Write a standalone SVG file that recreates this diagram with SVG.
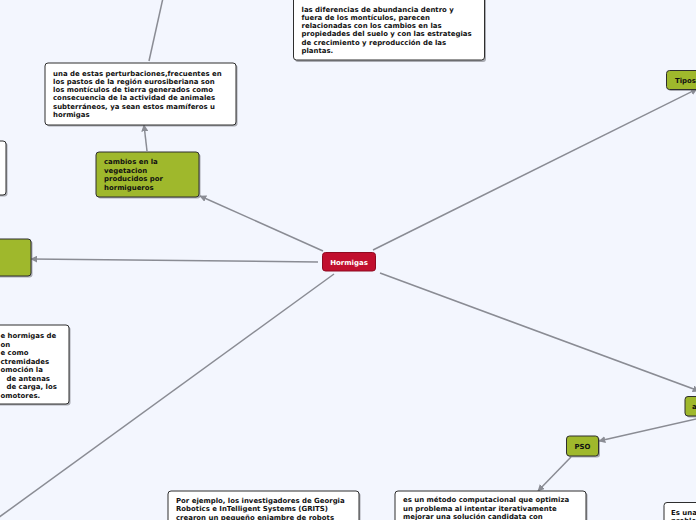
<svg xmlns="http://www.w3.org/2000/svg" width="696" height="520" viewBox="0 0 696 520">
<defs>
<marker id="arr" viewBox="0 0 10 10" refX="9" refY="5" markerWidth="7" markerHeight="7" markerUnits="userSpaceOnUse" orient="auto">
<path d="M0,0 L10,5 L0,10 z" fill="#8a8c94"/>
</marker>
<style>
.bg{fill:#f3f6fe}
.c{stroke:#8a8c94;stroke-width:1.5;fill:none}
.ca{stroke:#8a8c94;stroke-width:1.5;fill:none;marker-end:url(#arr)}
.w{fill:#ffffff;stroke:#2e2e2e;stroke-width:1}
.g{fill:#9fb82c;stroke:#2e2e2e;stroke-width:1}
.sh{fill:#6d6f75;opacity:0.55}
.r{fill:#c10f2e;stroke:#8e0a20;stroke-width:1}
.t{font-family:"DejaVu Sans",Verdana,sans-serif;font-weight:bold;font-size:6.95px;fill:#111}
.tw{font-family:"DejaVu Sans",Verdana,sans-serif;font-weight:bold;font-size:7px;fill:#ffffff}
</style>
</defs>
<rect class="bg" x="0" y="0" width="696" height="520"/>

<g id="connectors">
<line class="ca" x1="323" y1="251" x2="200" y2="196"/>
<line class="ca" x1="318" y1="262" x2="31" y2="259"/>
<line class="c" x1="334" y1="274" x2="-2" y2="518"/>
<line class="ca" x1="373" y1="250" x2="697" y2="89"/>
<line class="ca" x1="380" y1="273" x2="699" y2="391"/>
<line class="ca" x1="700" y1="418" x2="599" y2="441"/>
<line class="ca" x1="571" y1="457" x2="538" y2="491"/>
<line class="ca" x1="147" y1="151" x2="144" y2="125"/>
<line class="c" x1="149" y1="61" x2="163" y2="-2"/>
</g>

<g id="node-top">
<rect class="sh" x="295" y="-6" width="191" height="68" rx="3"/>
<rect class="w" x="293.5" y="-7" width="191" height="67" rx="3"/>
<text class="t" x="301.5" y="11.5">las diferencias de abundancia dentro y</text>
<text class="t" x="301.5" y="19.8">fuera de los montículos, parecen</text>
<text class="t" x="301.5" y="28.1">relacionadas con los cambios en las</text>
<text class="t" x="301.5" y="36.4">propiedades del suelo y con las estrategias</text>
<text class="t" x="301.5" y="44.7">de crecimiento y reproducción de las</text>
<text class="t" x="301.5" y="53">plantas.</text>
</g>

<g id="node-perturbaciones">
<rect class="sh" x="46.5" y="64.5" width="191" height="62" rx="3"/>
<rect class="w" x="45" y="63" width="191" height="62" rx="3"/>
<text class="t" x="53" y="75.8">una de estas perturbaciones,frecuentes en</text>
<text class="t" x="53" y="84">los pastos de la región eurosiberiana son</text>
<text class="t" x="53" y="92.2">los montículos de tierra generados como</text>
<text class="t" x="53" y="100.4">consecuencia de la actividad de animales</text>
<text class="t" x="53" y="108.6">subterráneos, ya sean estos mamíferos u</text>
<text class="t" x="53" y="116.8">hormigas</text>
</g>

<g id="node-cambios">
<rect class="sh" x="97.5" y="153.5" width="103" height="45" rx="3"/>
<rect class="g" x="96" y="152" width="103" height="45" rx="3"/>
<text class="t" x="104" y="164">cambios en la</text>
<text class="t" x="104" y="172.5">vegetacion</text>
<text class="t" x="104" y="181">producidos por</text>
<text class="t" x="104" y="189.5">hormigueros</text>
</g>

<g id="node-left-white">
<rect class="sh" x="-4" y="142.5" width="11.5" height="54" rx="3"/>
<rect class="w" x="-6" y="141" width="12" height="54" rx="3"/>
</g>

<g id="node-left-green">
<rect class="sh" x="-4" y="240.5" width="36.5" height="37" rx="3"/>
<rect class="g" x="-6" y="239" width="37" height="37" rx="3"/>
</g>

<g id="node-bottom-left">
<rect class="sh" x="-4" y="326.5" width="74.5" height="79" rx="3"/>
<rect class="w" x="-6" y="325" width="75" height="79" rx="3"/>
<text class="t" x="0.5" y="338">e hormigas de</text>
<text class="t" x="0.5" y="346.5">on</text>
<text class="t" x="0.5" y="355">e como</text>
<text class="t" x="0.5" y="363.5">ctremidades</text>
<text class="t" x="0.5" y="372">omoción la</text>
<text class="t" x="6.5" y="380.5">de antenas</text>
<text class="t" x="6.5" y="389">de carga, los</text>
<text class="t" x="0.5" y="397.5">omotores.</text>
</g>

<g id="node-hormigas">
<rect class="r" x="322.5" y="252.5" width="53" height="18.5" rx="3"/>
<text class="tw" x="349" y="264.5" text-anchor="middle">Hormigas</text>
</g>

<g id="node-tipos">
<rect class="sh" x="668" y="72" width="40" height="19" rx="3"/>
<rect class="g" x="666.5" y="70.5" width="40" height="19" rx="3"/>
<text class="t" x="675" y="83">Tipos</text>
</g>

<g id="node-a">
<rect class="sh" x="686.5" y="398" width="20" height="19.5" rx="3"/>
<rect class="g" x="685" y="396.5" width="20" height="19.5" rx="3"/>
<text class="t" x="692" y="408.5">a</text>
</g>

<g id="node-pso">
<rect class="sh" x="568" y="437.5" width="32" height="20" rx="3"/>
<rect class="g" x="566.5" y="436" width="32" height="20" rx="3"/>
<text class="t" x="582.5" y="448.5" text-anchor="middle">PSO</text>
</g>

<g id="node-grits">
<rect class="sh" x="169.5" y="492.5" width="191" height="40" rx="3"/>
<rect class="w" x="168" y="491" width="191" height="40" rx="3"/>
<text class="t" x="176" y="502.5">Por ejemplo, los investigadores de Georgia</text>
<text class="t" x="176" y="511">Robotics e InTelligent Systems (GRITS)</text>
<text class="t" x="176" y="519.5">crearon un pequeño enjambre de robots</text>
</g>

<g id="node-metodo">
<rect class="sh" x="396.5" y="492.5" width="191" height="40" rx="3"/>
<rect class="w" x="395" y="491" width="191" height="40" rx="3"/>
<text class="t" x="403" y="502">es un método computacional que optimiza</text>
<text class="t" x="403" y="510.5">un problema al intentar iterativamente</text>
<text class="t" x="403" y="519">mejorar una solución candidata con</text>
</g>

<g id="node-esuna">
<rect class="sh" x="665.5" y="504" width="40" height="30" rx="3"/>
<rect class="w" x="664" y="502.5" width="40" height="30" rx="3"/>
<text class="t" x="671" y="514.5" font-size="6.7">Es una</text>
<text class="t" x="671" y="523">proble</text>
</g>
</svg>
